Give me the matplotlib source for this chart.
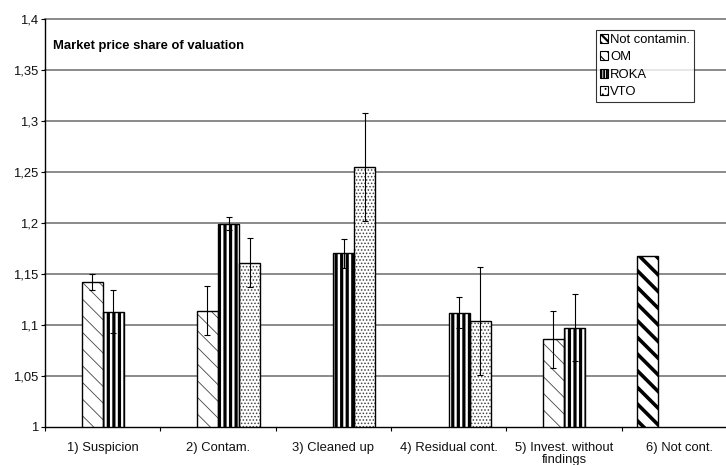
import numpy as np
import matplotlib
matplotlib.use("Agg")
import matplotlib.pyplot as plt
from matplotlib.patches import Patch

plt.rcParams['font.family'] = ['Liberation Sans', 'DejaVu Sans']

categories = ["1) Suspicion", "2) Contam.", "3) Cleaned up", "4) Residual cont.",
              "5) Invest. without\nfindings", "6) Not cont."]
series = ["Not contamin.", "OM", "ROKA", "VTO"]
nan = np.nan
not_contamin = [nan, nan, nan, nan, nan, 1.167]
om = [1.142, 1.114, nan, nan, 1.086, nan]
roka = [1.113, 1.199, 1.170, 1.112, 1.097, nan]
vto = [nan, 1.161, 1.255, 1.104, nan, nan]
err_not_contamin = [nan, nan, nan, nan, nan, 0.0]
err_om = [0.0075, 0.024, nan, nan, 0.028, nan]
err_roka = [0.021, 0.0065, 0.014, 0.015, 0.033, nan]
err_vto = [nan, 0.024, 0.053, 0.053, nan, nan]
yticks = [1.0, 1.05, 1.1, 1.15, 1.2, 1.25, 1.3, 1.35, 1.4]
ytick_labels = ["1", "1,05", "1,1", "1,15", "1,2", "1,25", "1,3", "1,35", "1,4"]
title = "Market price share of valuation"

W, H = 726, 465
FS = 9.4
fig = plt.figure(figsize=(W / 100, H / 100), dpi=100)
ax = fig.add_axes([45 / W, 38.3 / H, 692 / W, (426.7 - 19) / H])

styles = [
    dict(hatch="\\\\", hc="black", hlw=2.6, lh="\\\\\\\\", llw=1.6),
    dict(hatch="\\\\", hc="#444444", hlw=0.6, lh="\\\\\\", llw=0.8),
    dict(hatch="|||", hc="black", hlw=2.3, lh="||||||", llw=1.4),
    dict(hatch=".....", hc="#444444", hlw=0.7, lh="...", llw=0.6),
]
data = [not_contamin, om, roka, vto]
errs = [err_not_contamin, err_om, err_roka, err_vto]

bw = 21 / 115.3
x = np.arange(len(categories)) + 0.5
base = 1.0
for k, (vals, ev, st) in enumerate(zip(data, errs, styles)):
    xs = x + (k - 1.5) * bw
    v = np.array(vals, dtype=float)
    heights = v - base
    bars = ax.bar(xs, heights, bw, bottom=base, color="white", edgecolor=st["hc"],
                  linewidth=0, hatch=st["hatch"], zorder=3)
    for b in bars:
        if hasattr(b, "set_hatch_linewidth"):
            b.set_hatch_linewidth(st["hlw"])
    ax.bar(xs, heights, bw, bottom=base, fill=False, edgecolor="black",
           linewidth=1.0, zorder=4)
    e = np.array(ev, dtype=float)
    mask = ~np.isnan(v) & ~np.isnan(e) & (np.nan_to_num(e) > 0)
    ax.errorbar(xs[mask], v[mask], yerr=e[mask], fmt="none", ecolor="black",
                elinewidth=0.8, capsize=2.5, capthick=0.8, zorder=5)

ax.set_xlim(0, 6)
ax.set_ylim(1.0, 1.4)
ax.set_yticks(yticks)
ax.set_yticklabels(ytick_labels, fontsize=FS, color="#111111")
ax.set_xticks(np.arange(0, 7))
ax.set_xticklabels([])
ax.set_xticks(x, minor=True)
ax.set_xticklabels(categories, minor=True, fontsize=FS, color="#111111",
                   va="top", linespacing=0.95)
ax.tick_params(axis="x", which="minor", length=0, pad=11)
ax.tick_params(axis="x", which="major", length=3, direction="out", width=0.8)
ax.tick_params(axis="y", length=3, direction="out", width=0.8, pad=2)

for yv in yticks[1:]:
    ax.axhline(yv, color="#777777", linewidth=1.2, zorder=1, clip_on=False)

for s in ["top", "right"]:
    ax.spines[s].set_visible(False)
ax.spines["left"].set_linewidth(1.0)
ax.spines["bottom"].set_linewidth(1.0)

fig.text(53 / W, 1 - 46 / H, title, fontsize=FS, fontweight="bold",
         va="center", ha="left")

handles = []
for name, st in zip(series, styles):
    handles.append(Patch(facecolor="white", edgecolor="black", hatch=st["lh"],
                         linewidth=0.8, label=name))
leg = fig.legend(handles=handles, loc="upper right",
                 bbox_to_anchor=(694 / W, 1 - 30 / H), fontsize=FS,
                 frameon=True, fancybox=False, edgecolor="black",
                 handlelength=0.65, handleheight=0.65, handletextpad=0.15,
                 borderpad=0.3, labelspacing=0.42, borderaxespad=0)
leg.get_frame().set_linewidth(0.8)
for p, st in zip(leg.get_patches(), styles):
    if hasattr(p, "set_hatch_linewidth"):
        p.set_hatch_linewidth(st["llw"])

fig.savefig("out.png", dpi=100)
